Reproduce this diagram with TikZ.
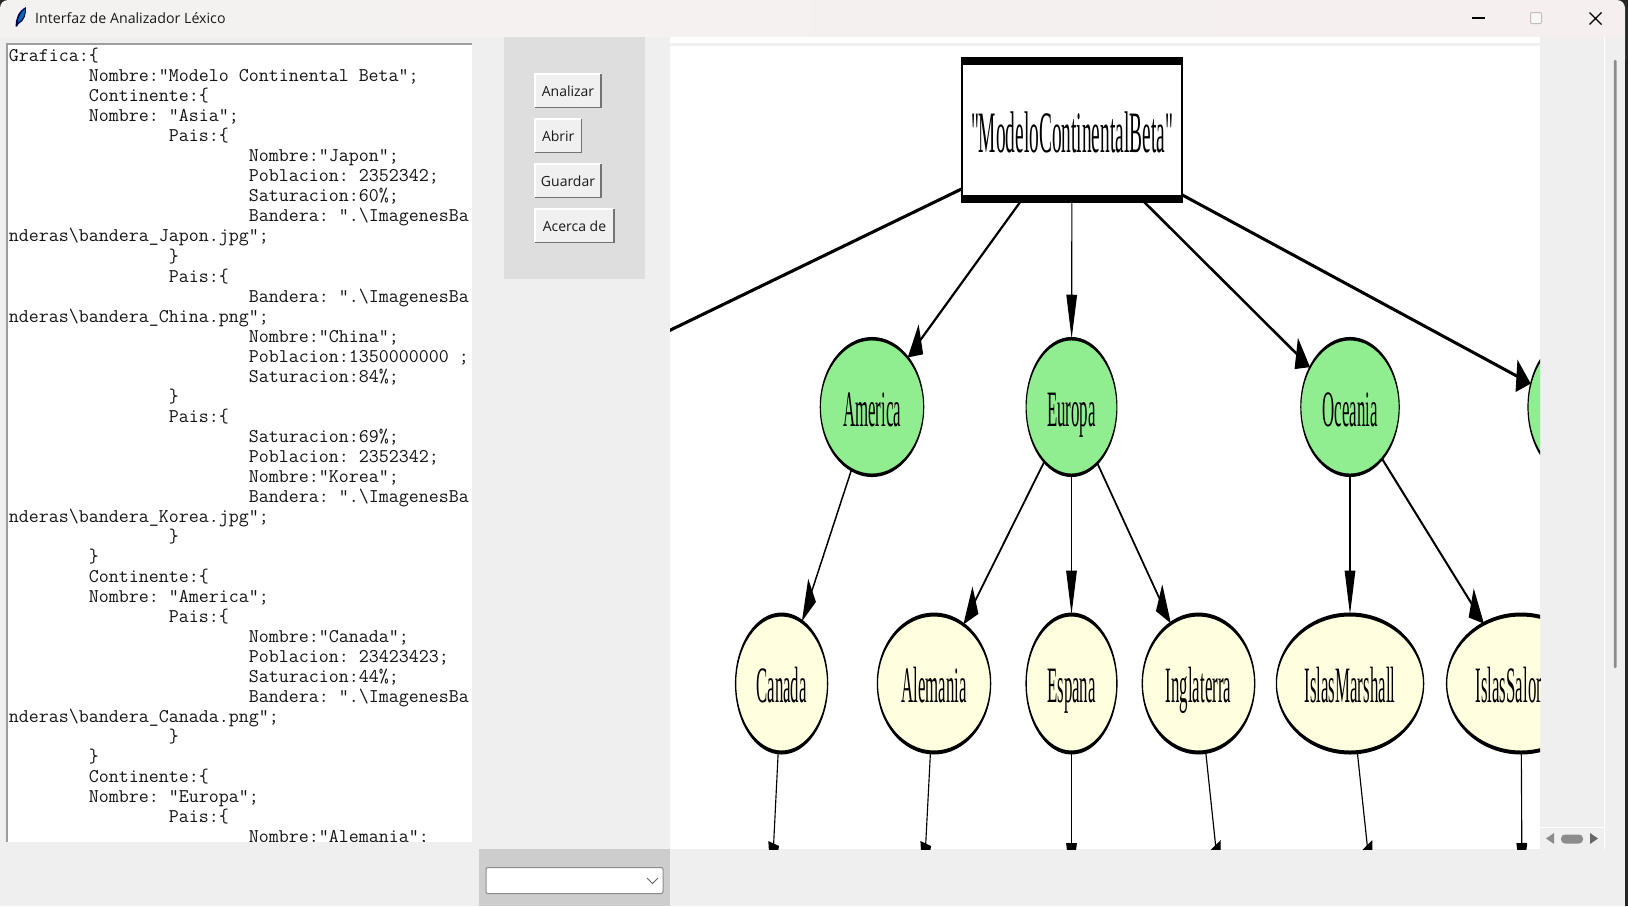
\documentclass[tikz,border=0pt]{standalone}
\usepackage{fontspec}
\usetikzlibrary{shapes.geometric,arrows.meta}
\setmainfont{Open Sans}
\newfontfamily\graphfont{Liberation Serif}
\newlength\tabw \setlength\tabw{80pt}
\newcommand{\cl}[2]{\rule{0pt}{14pt}\hspace*{#1\tabw}#2}
\definecolor{winbg}{HTML}{EFEFEF}
\definecolor{panelbg}{HTML}{DEDEDE}
\definecolor{dropbg}{HTML}{CDCDCD}
\definecolor{gnodefill}{HTML}{90EE90}
\definecolor{ynodefill}{HTML}{FFFFE0}
\definecolor{btnface}{HTML}{F0F0F0}
\definecolor{barleft}{HTML}{F3F2F1}
\definecolor{barright}{HTML}{F6EFEF}
\tikzset{
  uitext/.style={font=\fontsize{14.2}{18}\selectfont, text=black!90, inner sep=0pt},
  btn/.style={fill=btnface, draw=none, inner sep=0pt, anchor=north west, text=black!90,
     text height=12pt, text depth=0pt, font=\fontsize{14}{17}\selectfont},
  btnlight/.style={draw=white, line width=1.4pt},
  btnshade/.style={draw=black!55, line width=1.6pt},
  gvnode/.style 2 args={ellipse, draw=black, inner sep=0pt, outer sep=0pt,
     minimum width={2*#1/0.33*1pt}, minimum height={2*#2*1pt},
     text height=38pt, text depth=0pt, text=black,
     font=\graphfont\fontsize{51}{51}\selectfont},
  contnode/.style={gvnode={#1}{68.3}, fill=gnodefill, line width=3.5pt},
  paisnode/.style={gvnode={#1}{69}, fill=ynodefill, line width=4pt},
  rootnode/.style={rectangle, draw=black, fill=white, line width=8pt, inner sep=0pt, outer sep=0pt,
     minimum width={219.7/0.33*1pt}, minimum height=138pt,
     text height=45pt, text depth=0pt, font=\graphfont\fontsize{58.7}{59}\selectfont},
  gvedge/.style={draw=black, line width=3.4pt, -{Triangle[length=44pt,width=32pt]}},
  scrollmark/.style={fill=black!45, draw=none},
}
\begin{document}
\begin{tikzpicture}[x=1pt,y=-1pt]
\useasboundingbox (0,0) rectangle (1628,906);
% frame and window
\fill[black!85] (0,0) rectangle (1628,906);
\fill[left color=barleft, middle color=barleft, right color=barright, rounded corners=8pt]
   (0,60) -- (0,0) -- (1625,0) -- (1625,60);
\fill[winbg] (0,37) rectangle (1625,906);
% title bar
\fill[black!70!blue] (15.5,26.5) .. controls (15.5,19) and (18,11) .. (26,7) .. controls (26.5,14) and (24.5,21) .. (18.5,24) -- (17,26.5) -- cycle;
\fill[blue!40!cyan!70!black] (18,20) .. controls (19.5,15) and (22,11) .. (25,9) .. controls (25.3,14) and (23,19.5) .. (18.5,22.5) -- cycle;
\node[uitext, anchor=base west] (title) at (35,23) {Interfaz de Analizador Léxico};
\coordinate (mina) at (1472,18); \coordinate (minb) at (1485,18);
\draw[black, line width=1.2pt] (mina) -- (minb);
\node[draw=black!25, fill=black!3, rounded corners=1pt, line width=1pt, minimum width=11pt, minimum height=11pt, inner sep=0pt] (maxbox) at (1536,18) {};
\coordinate (xa) at (1589.5,12.5); \coordinate (xb) at (1601.5,24.5);
\coordinate (xc) at (1589.5,24.5); \coordinate (xd) at (1601.5,12.5);
\draw[black, line width=1.2pt] (xa) -- (xb) (xc) -- (xd);
% code box
\fill[white] (6,43) rectangle (472,842);
\draw[black!38, line width=1.6pt] (6.8,842) -- (6.8,43.8) -- (472,43.8);
\begin{scope}
\clip (7,44) rectangle (472,841.5);
\node[anchor=north west, inner sep=0pt, align=left, text=black!92,
      font=\ttfamily\addfontfeature{FakeBold=0.25}\fontsize{19.4}{20.03}\selectfont\frenchspacing] (code) at (8.8,47.5) {%
\cl{0}{Grafica:\{}\\
\cl{1}{Nombre:"Modelo Continental Beta";}\\
\cl{1}{Continente:\{}\\
\cl{1}{Nombre: "Asia";}\\
\cl{2}{Pais:\{}\\
\cl{3}{Nombre:"Japon";}\\
\cl{3}{Poblacion: 2352342;}\\
\cl{3}{Saturacion:60\%;}\\
\cl{3}{Bandera: ".\textbackslash ImagenesBa}\\
\cl{0}{nderas\textbackslash bandera\_Japon.jpg";}\\
\cl{2}{\}}\\
\cl{2}{Pais:\{}\\
\cl{3}{Bandera: ".\textbackslash ImagenesBa}\\
\cl{0}{nderas\textbackslash bandera\_China.png";}\\
\cl{3}{Nombre:"China";}\\
\cl{3}{Poblacion:1350000000 ;}\\
\cl{3}{Saturacion:84\%;}\\
\cl{2}{\}}\\
\cl{2}{Pais:\{}\\
\cl{3}{Saturacion:69\%;}\\
\cl{3}{Poblacion: 2352342;}\\
\cl{3}{Nombre:"Korea";}\\
\cl{3}{Bandera: ".\textbackslash ImagenesBa}\\
\cl{0}{nderas\textbackslash bandera\_Korea.jpg";}\\
\cl{2}{\}}\\
\cl{1}{\}}\\
\cl{1}{Continente:\{}\\
\cl{1}{Nombre: "America";}\\
\cl{2}{Pais:\{}\\
\cl{3}{Nombre:"Canada";}\\
\cl{3}{Poblacion: 23423423;}\\
\cl{3}{Saturacion:44\%;}\\
\cl{3}{Bandera: ".\textbackslash ImagenesBa}\\
\cl{0}{nderas\textbackslash bandera\_Canada.png";}\\
\cl{2}{\}}\\
\cl{1}{\}}\\
\cl{1}{Continente:\{}\\
\cl{1}{Nombre: "Europa";}\\
\cl{2}{Pais:\{}\\
\cl{3}{Nombre:"Alemania";}};
\end{scope}
% button panel
\fill[panelbg] (504,37) rectangle (645,279);
\foreach \nm/\lbl/\yy/\ww in {banalizar/Analizar/74/65.6, babrir/Abrir/119/46, bguardar/Guardar/164/65.6, bacerca/Acerca de/209/78.6}{
  \node[btn, minimum width=\ww pt, minimum height=33pt] (\nm) at (535,\yy) {\lbl};
  \draw[btnlight] (\nm.south west) -- (\nm.north west) -- (\nm.north east);
  \draw[btnshade] (\nm.south west) -- (\nm.south east) -- (\nm.north east);
}
% dropdown
\fill[dropbg] (479,849) rectangle (670,906);
\node[rectangle, rounded corners=2pt, fill=white, draw=black!45, line width=1pt, minimum width=177pt, minimum height=26pt, inner sep=0pt] (combo) at (574.5,880.5) {};
\coordinate (cha) at (647,878); \coordinate (chb) at (652.5,883.5); \coordinate (chc) at (658,878);
\draw[black!60, line width=1pt] (cha) -- (chb) -- (chc);
% right side
\fill[winbg] (1540,37) rectangle (1604,849);
\fill[white] (1604,37) rectangle (1605,849);
\fill[white] (1540,827) rectangle (1604,849);
\fill[winbg] (1540,828) rectangle (1604,849);
\fill[black!45, rounded corners=1pt] (1613.8,60) rectangle (1616.6,668);
\fill[scrollmark] (1546,838.5) -- (1554,833) -- (1554,844) -- cycle;
\fill[scrollmark, rounded corners=4pt] (1561,834.5) rectangle (1583,843.5);
\fill[black!60] (1598,838.5) -- (1590,833) -- (1590,844) -- cycle;
% graph canvas
\fill[white] (670,37) rectangle (1540,849);
\fill[black!6] (670,43.3) rectangle (1540,45.7);
\begin{scope}
\clip (670,37) rectangle (1540,849);
\begin{scope}[transform canvas={xscale=0.33}, x=3.030303pt, y=-1pt]
\node[rootnode] (root) at (1072,130) {"ModeloContinentalBeta"};
\node[contnode=51.7] (america) at (872,407) {America};
\node[contnode=45.4] (europa) at (1071.5,407) {Europa};
\node[contnode=49.2] (oceania) at (1350,407) {Oceania};
\node[contnode=46] (asia) at (1574,407) {};
\coordinate (westend) at (640,344.8);
\node[paisnode=46] (canada) at (781.6,683.5) {Canada};
\node[paisnode=56.6] (alemania) at (934,683.5) {Alemania};
\node[paisnode=45.4] (espana) at (1071.5,683.5) {Espana};
\node[paisnode=56.2] (inglaterra) at (1198.5,683.5) {Inglaterra};
\node[paisnode=73.6] (marshall) at (1350,683.5) {IslasMarshall};
\node[paisnode=74.4] (salomon) at (1521,683.5) {IslasSalomon};
\coordinate (t1) at (771.5,887); \coordinate (t2) at (923.5,887);
\coordinate (t3) at (1071.5,887); \coordinate (t4) at (1220,887);
\coordinate (t5) at (1371.7,887); \coordinate (t6) at (1522,887);
\draw[gvedge] (root.190) -- (westend);
\draw[gvedge] (root) -- (america);
\draw[gvedge] (root) -- (europa);
\draw[gvedge] (root) -- (oceania);
\draw[gvedge] (root.349) -- (asia);
\draw[gvedge] (america) -- (canada);
\draw[gvedge] (europa) -- (alemania);
\draw[gvedge] (europa) -- (espana);
\draw[gvedge] (europa) -- (inglaterra);
\draw[gvedge] (oceania) -- (marshall);
\draw[gvedge] (oceania) -- (salomon);
\draw[gvedge] (canada) -- (t1);
\draw[gvedge] (alemania) -- (t2);
\draw[gvedge] (espana) -- (t3);
\draw[gvedge] (inglaterra) -- (t4);
\draw[gvedge] (marshall) -- (t5);
\draw[gvedge] (salomon) -- (t6);
\end{scope}
\end{scope}
\end{tikzpicture}
\end{document}
